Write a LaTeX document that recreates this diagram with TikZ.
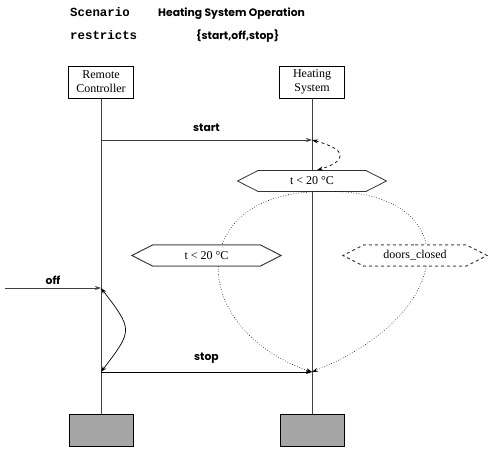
\documentclass[tikz,border=0pt]{standalone}
\usepackage{fontspec}
\setmainfont{Liberation Serif}
\newfontfamily\msgfont{Poppins}
\newfontfamily\kwfont{Liberation Mono}
\usetikzlibrary{shapes,arrows,arrows.meta,positioning,calc}

\begin{document}
\begin{tikzpicture}[x=1pt, y=-1pt, >={Stealth[length=6pt,width=4pt]}]
    % Define styles
    \tikzstyle{instance} = [rectangle, draw=black, fill=white, align=center, font=\fontsize{12}{14}\selectfont, minimum width=65pt, minimum height=32pt, inner sep=1pt]
    \tikzstyle{stopbox} = [rectangle, draw=black, fill=black!35, minimum width=64pt, minimum height=32pt]
    \tikzstyle{condition} = [signal, signal to=west and east, signal pointer angle=54, draw=black!80, line width=0.8pt, fill=white, font=\fontsize{12}{14}\selectfont, minimum height=21pt, minimum width=149pt, inner xsep=12pt, inner ysep=2pt]
    \tikzstyle{lifeline} = [draw=black!75, line width=0.9pt]
    \tikzstyle{message} = [->, draw=black!75, line width=0.9pt]
    \tikzstyle{msglabel} = [font=\msgfont\bfseries\fontsize{10.8}{12}\selectfont, above, inner sep=3pt]
    \tikzstyle{header} = [anchor=base west, inner sep=0pt]

    \useasboundingbox (0,0) rectangle (489,454);

    % Header
    \node[header, font=\kwfont\bfseries\fontsize{12.4}{14}\selectfont] (kwscen) at (70,17) {Scenario};
    \node[header, font=\msgfont\bfseries\fontsize{10.8}{12}\selectfont] (title) at (158,17) {Heating System Operation};
    \node[header, font=\kwfont\bfseries\fontsize{12.4}{14}\selectfont] (kwrestr) at (70,40) {restricts};
    \node[header, font=\msgfont\bfseries\fontsize{10.8}{12}\selectfont] (events) at (196,40) {\{start,off,stop\}};

    % Instances
    \node[instance] (remote) at (101,82) {Remote\\Controller};
    \node[instance] (heating) at (312,82) {Heating\\System};
    \node[stopbox] (remoteend) at (101,430) {};
    \node[stopbox] (heatingend) at (312,430) {};

    % Lifelines
    \draw[lifeline] (remote) -- (remoteend);
    \draw[lifeline] (heating) -- (heatingend);

    % Points on the lifelines
    \coordinate (rstart) at (101,140);
    \coordinate (hstart) at (312,140);
    \coordinate (env) at (5,288);
    \coordinate (roff) at (101,288);
    \coordinate (rstop) at (101,372);
    \coordinate (hstop) at (312,372);

    % Conditions
    \node[condition] (cond1) at (312,181) {t < 20 °C};
    \node[condition] (cond2) at (206.5,255.5) {t < 20 °C};
    \node[condition, dashed, minimum width=144pt] (doors) at (415,255.5) {doors\_closed};

    % Coregion and ordering
    \draw[dotted, ->, line width=0.6pt] (cond1.south) .. controls (185,198) and (190,330) .. (hstop);
    \draw[dotted, ->, line width=0.6pt] (cond1.south) .. controls (465,182) and (465,310) .. (hstop);
    \node[condition] at (cond2) {t < 20 °C};
    \node[condition, dashed, minimum width=144pt] at (doors) {doors\_closed};
    \draw[dashed, <->, line width=0.7pt] (hstart) .. controls (350,150) and (345,162) .. ($(cond1.north)+(5,0)$);
    \draw[<->, line width=0.7pt] (roff) .. controls (133,330) and (133,330) .. (rstop);

    % Messages
    \draw[message] (rstart) -- (hstart) node[msglabel, midway, above=5pt] {start};
    \draw[message] (env) -- (roff) node[msglabel, midway] {off};
    \draw[message, draw=black] (rstop) -- (hstop) node[msglabel, midway, above=5pt] {stop};

\end{tikzpicture}
\end{document}
